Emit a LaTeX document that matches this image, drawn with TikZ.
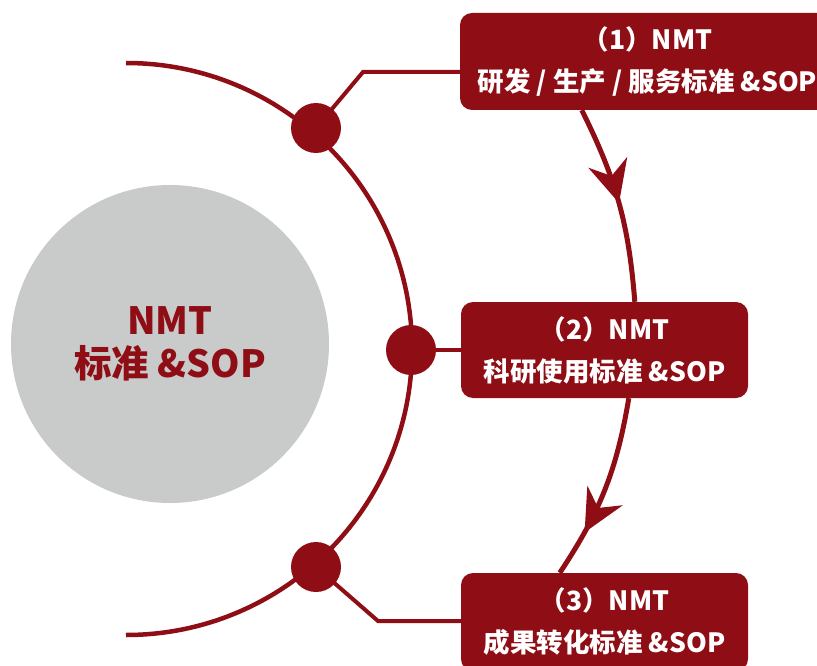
\documentclass[tikz,border=0pt]{standalone}
\usepackage{fontspec}
\setmainfont{Noto Sans CJK SC}
\usetikzlibrary{arrows.meta,decorations.markings,calc}
\definecolor{nred}{RGB}{143,14,21}
\definecolor{ngrey}{RGB}{201,202,202}
\tikzset{headtip/.tip={Stealth[length=42pt,width=40pt,inset=14pt]}}
\begin{document}
\begin{tikzpicture}[x=1pt,y=1pt,
  box/.style={fill=nred, rounded corners=12pt, text=white, align=center,
    font=\bfseries\fontsize{26.5}{42}\selectfont, inner sep=0pt},
  conn/.style={draw=nred, line width=4pt},
  dotnode/.style={circle, fill=nred, minimum size=50pt, inner sep=0pt},
  flow/.style={draw=nred, line width=5pt, postaction={decorate}}
]
\useasboundingbox (0,0) rectangle (817,-666);
% centre circle
\node[circle, fill=ngrey, minimum size=318pt, inner sep=0pt, text=nred, align=center,
  font=\bfseries\fontsize{37.5}{43}\selectfont] (c) at (170,-344) {NMT\\标准 \&SOP};
% big arc
\draw[nred, line width=4.5pt] (126,-63) arc[start angle=90, end angle=-90, radius=286];
% boxes
\node[box, minimum width=375pt, minimum height=97pt] (b1) at (647.5,-61.5) {（1）NMT\\研发 / 生产 / 服务标准 \&SOP};
\node[box, minimum width=287pt, minimum height=96pt] (b2) at (604.5,-350) {（2）NMT\\科研使用标准 \&SOP};
\node[box, minimum width=287pt, minimum height=98pt] (b3) at (604.5,-622) {（3）NMT\\成果转化标准 \&SOP};
% dots
\node[dotnode] (d1) at (316,-128) {};
\node[dotnode] (d2) at (411,-350) {};
\node[dotnode] (d3) at (316,-567) {};
% connectors
\coordinate (k1) at (363,-72);
\coordinate (k3) at (378,-621);
\draw[conn] (d1.center) -- (k1) -- (k1 -| b1.west);
\draw[conn] (d2.center) -- (d2.center -| b2.west);
\draw[conn] (d3.center) -- (k3) -- (k3 -| b3.west);
% flow arrows
\draw[flow, decoration={markings, mark=at position 0.5 with {\arrow{headtip}}}]
  ($(b1.south west)+(122,0)$) to[bend left=11] ($(b2.north west)+(174,0)$);
\draw[flow, decoration={markings, mark=at position 0.75 with {\arrow{headtip}}}]
  ($(b2.south west)+(168,0)$) to[bend left=12] ($(b3.north west)+(99,0)$);
\end{tikzpicture}
\end{document}
